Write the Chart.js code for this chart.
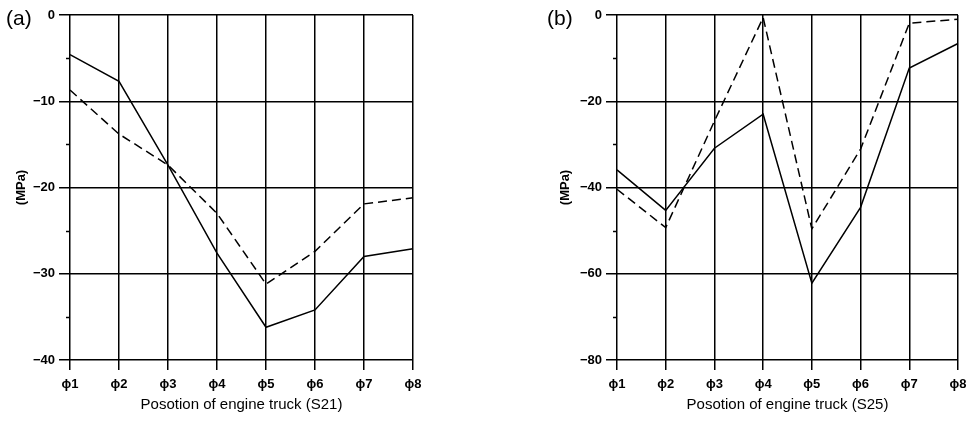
<!DOCTYPE html>
<html>
<head>
<meta charset="utf-8">
<script src="https://cdn.jsdelivr.net/npm/chart.js@4/dist/chart.umd.min.js"></script>
<style>
  body { margin: 0; background: #fff; }
  .panel { position: absolute; top: 0; width: 489px; height: 445px; }
</style>
</head>
<body>
<div class="panel" style="left:0"><canvas id="chartA" width="489" height="445"></canvas></div>
<div class="panel" style="left:489px"><canvas id="chartB" width="489" height="445"></canvas></div>
<script>
// positions along the engine truck
const positions = ['\u03d51', '\u03d52', '\u03d53', '\u03d54', '\u03d55', '\u03d56', '\u03d57', '\u03d58'];

// (a) S21, MPa
const s21Solid = [-4.6, -7.7, -17.4, -27.6, -36.2, -34.2, -28.0, -27.1];
const s21Dashed = [-8.7, -13.8, -17.4, -23.0, -31.2, -27.4, -21.9, -21.2];

// (b) S25, MPa
const s25Solid = [-35.9, -45.3, -30.9, -23.0, -62.2, -44.6, -12.3, -6.6];
const s25Dashed = [-40.4, -49.3, -24.6, -0.6, -49.6, -31.1, -1.9, -1.0];

const yTicksA = { min: -40, max: 0, major: 10, minor: 5 };
const yTicksB = { min: -80, max: 0, major: 20, minor: 10 };

const FONT = '"Liberation Sans", Arial, sans-serif';

// short minor tick marks on the y axis and the panel letter
const panelDecor = {
    id: 'panelDecor',
    afterDraw(chart, args, opts) {
        const ctx = chart.ctx;
        const yScale = chart.scales.y;
        const left = chart.chartArea.left;
        ctx.save();
        ctx.strokeStyle = '#000';
        ctx.lineWidth = 1.5;
        yScale.ticks.forEach(t => {
            if (t.value % opts.major !== 0) {
                const py = Math.round(yScale.getPixelForValue(t.value)) + 0.5;
                ctx.beginPath();
                ctx.moveTo(left - 4, py);
                ctx.lineTo(left, py);
                ctx.stroke();
            }
        });
        ctx.fillStyle = '#000';
        ctx.font = '21px ' + FONT;
        ctx.textBaseline = 'alphabetic';
        ctx.fillText(opts.letter, opts.letterX, 25);
        ctx.restore();
    }
};

function makeChart(id, solid, dashed, yt, letter, letterX, xTitle, leftW, rightPad, yTitlePad) {
    return new Chart(document.getElementById(id), {
        type: 'line',
        data: {
            labels: positions,
            datasets: [
                { data: solid, borderColor: '#000', borderWidth: 1.5, pointRadius: 0, tension: 0 },
                { data: dashed, borderColor: '#000', borderWidth: 1.5, borderDash: [9, 5], pointRadius: 0, tension: 0 }
            ]
        },
        options: {
            responsive: false,
            animation: false,
            devicePixelRatio: 1,
            layout: { padding: { left: 0, right: rightPad, top: 15, bottom: 0 } },
            plugins: {
                legend: { display: false },
                tooltip: { enabled: false },
                panelDecor: { letter: letter, letterX: letterX, major: yt.major }
            },
            scales: {
                x: {
                    offset: false,
                    border: { display: false },
                    grid: { color: '#000', lineWidth: 1.5, tickLength: 10 },
                    ticks: {
                        color: '#000', padding: 7, maxRotation: 0, autoSkip: false,
                        font: { family: FONT, size: 13, weight: 'bold' }
                    },
                    title: {
                        display: true, text: xTitle, color: '#000',
                        font: { family: FONT, size: 15 },
                        padding: { top: 0, bottom: 31 }
                    },
                    afterFit(scale) { scale.height = 85; }
                },
                y: {
                    min: yt.min, max: yt.max,
                    border: { display: false },
                    grid: {
                        lineWidth: 1.5, tickLength: 11,
                        color: c => (c.tick && c.tick.value % yt.major === 0) ? '#000' : 'rgba(0,0,0,0)'
                    },
                    ticks: {
                        stepSize: yt.minor, autoSkip: false, color: '#000', padding: 4,
                        font: { family: FONT, size: 13, weight: 'bold' },
                        callback: v => v % yt.major !== 0 ? '' : (v === 0 ? '0' : '\u2212' + Math.abs(v))
                    },
                    title: {
                        display: true, text: '(MPa)', color: '#000',
                        font: { family: FONT, size: 13, weight: 'bold' },
                        padding: { top: yTitlePad, bottom: 0 }
                    },
                    afterFit(scale) { scale.width = leftW; }
                }
            }
        },
        plugins: [panelDecor]
    });
}

makeChart('chartA', s21Solid, s21Dashed, yTicksA, '(a)', 6, 'Posotion of engine truck (S21)', 70, 76, 14);
makeChart('chartB', s25Solid, s25Dashed, yTicksB, '(b)', 58, 'Posotion of engine truck (S25)', 128, 20, 69);
</script>
</body>
</html>
